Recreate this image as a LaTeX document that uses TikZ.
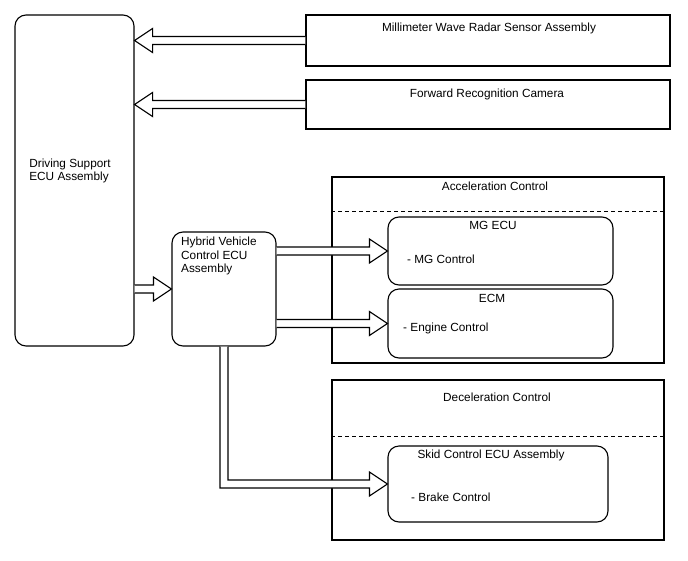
\documentclass[tikz,border=0pt]{standalone}
\usepackage{fontspec}
\setmainfont{Liberation Sans}
\usetikzlibrary{calc}
\tikzset{
    box/.style={draw=black, line width=1.1pt, rounded corners=11pt, fill=white},
    plainbox/.style={draw=black, line width=1.1pt},
    txt/.style={inner sep=0pt, font=\fontsize{11.8}{13.5}\selectfont},
    % hollow block arrow, straight
    fatarrow/.style={draw=black, line width=1.1pt, fill=white, line join=miter,
        to path={let \p1=(\tikztostart), \p2=(\tikztotarget), \n1={sign(\x2-\x1)} in
            (\x1,{\y1+4pt}) -- ({\x2-\n1*18pt},{\y1+4pt}) -- ({\x2-\n1*18pt},{\y1+12pt})
            -- (\x2,\y1) -- ({\x2-\n1*18pt},{\y1-12pt}) -- ({\x2-\n1*18pt},{\y1-4pt})
            -- (\x1,{\y1-4pt})}},
    % hollow block arrow, down then right
    fatelbow/.style={draw=black, line width=1.1pt, fill=white, line join=miter,
        to path={let \p1=(\tikztostart), \p2=(\tikztotarget) in
            ({\x1-4pt},\y1) -- ({\x1-4pt},{\y2-4pt}) -- ({\x2-18pt},{\y2-4pt})
            -- ({\x2-18pt},{\y2-12pt}) -- (\x2,\y2) -- ({\x2-18pt},{\y2+12pt})
            -- ({\x2-18pt},{\y2+4pt}) -- ({\x1+4pt},{\y2+4pt}) -- ({\x1+4pt},\y1)}},
    divider/.style={draw=black, line width=0.7pt, dash pattern=on 4pt off 3pt},
}
\begin{document}
\begin{tikzpicture}[x=1pt, y=-1pt]

\useasboundingbox (0,0) rectangle (688,560);

		% sensors
		\node[plainbox, minimum width=364pt, minimum height=51pt] (radar) at (488,40.5) {};
		\node[txt] (radartext) at (489,28) {Millimeter Wave Radar Sensor Assembly};
		\node[plainbox, minimum width=364pt, minimum height=49pt] (camera) at (488,104.5) {};
		\node[txt] (cameratext) at (487,94) {Forward Recognition Camera};

		% driving support ECU
		\node[box, minimum width=119pt, minimum height=331pt] (ds) at (74.5,180.5) {};
		\node[txt, align=left] (dstext) at (70,171) {Driving Support\\ECU Assembly};

		% hybrid ECU
		\node[box, minimum width=104pt, minimum height=114pt] (hv) at (224,289) {};
		\node[txt, align=left, anchor=north west] (hvtext) at (181,237) {Hybrid Vehicle\\Control ECU\\Assembly};

		% acceleration control
		\node[plainbox, minimum width=332pt, minimum height=186pt] (acc) at (498,270) {};
		\node[txt] (acctext) at (495,186) {Acceleration Control};
		\draw[divider] ([yshift=-35pt]acc.north west) -- ([yshift=-35pt]acc.north east);
		\node[box, minimum width=225pt, minimum height=68pt] (mg) at (500.5,251) {};
		\node[txt] (mgtext) at (493,225) {MG ECU};
		\node[txt, anchor=west] (mgitem) at (407,259) {- MG Control};
		\node[box, minimum width=225pt, minimum height=69pt] (ecm) at (500.5,323.5) {};
		\node[txt] (ecmtext) at (492,298) {ECM};
		\node[txt, anchor=west] (ecmitem) at (403,328) {- Engine Control};

		% deceleration control
		\node[plainbox, minimum width=332pt, minimum height=160pt] (dec) at (498,460) {};
		\node[txt] (dectext) at (497,397) {Deceleration Control};
		\draw[divider] ([yshift=-57pt]dec.north west) -- ([yshift=-57pt]dec.north east);
		\node[box, minimum width=220pt, minimum height=76pt] (skid) at (498,484) {};
		\node[txt] (skidtext) at (491,455) {Skid Control ECU Assembly};
		\node[txt, anchor=west] (skiditem) at (411,497) {- Brake Control};

		% signals
		\draw[fatarrow] (radar.west) to (radar.west -| ds.east);
		\draw[fatarrow] (camera.west) to (camera.west -| ds.east);
		\draw[fatarrow] (hv.west -| ds.east) to (hv.west);
		\draw[fatarrow] (mg.west -| hv.east) to (mg.west);
		\draw[fatarrow] (ecm.west -| hv.east) to (ecm.west);
		\draw[fatelbow] (hv.south) to (skid.west);

\end{tikzpicture}
\end{document}
